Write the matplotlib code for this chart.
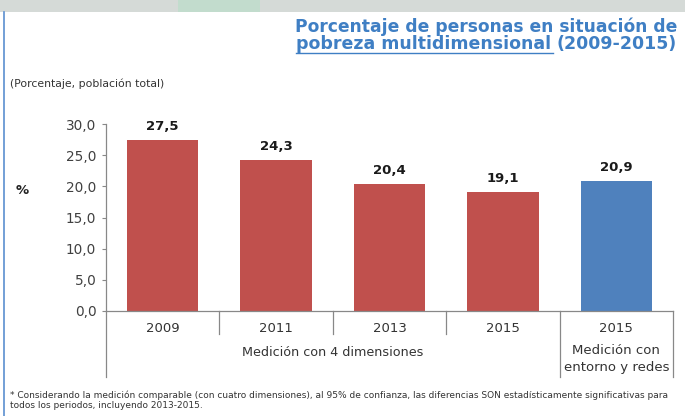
import matplotlib
matplotlib.use('Agg')
import matplotlib.pyplot as plt
import matplotlib.transforms as mtransforms
from matplotlib.patches import Rectangle
from matplotlib.lines import Line2D

plt.rcParams['font.family'] = ['DejaVu Sans']

# datos
years = ['2009', '2011', '2013', '2015', '2015']
values = [27.5, 24.3, 20.4, 19.1, 20.9]
bar_colors = ['#c0504d', '#c0504d', '#c0504d', '#c0504d', '#4f81bd']
yticks = [0, 5, 10, 15, 20, 25, 30]
group1 = 'Medición con 4 dimensiones'
group2 = 'Medición con\nentorno y redes'
title1 = 'Porcentaje de personas en situación de'
title2_a = 'pobreza multidimensional '
title2_b = '(2009-2015)'
subtitle = '(Porcentaje, población total)'
footnote = ('* Considerando la medición comparable (con cuatro dimensiones), al 95% de confianza, '
            'las diferencias SON estadísticamente significativas para\n'
            'todos los periodos, incluyendo 2013-2015.')

W, H = 685, 416
fig = plt.figure(figsize=(W / 100, H / 100), dpi=100)
fig.patch.set_facecolor('white')

# franja superior y linea azul de la izquierda
fig.patches.append(Rectangle((0, 1 - 12 / H), 1, 12 / H, transform=fig.transFigure,
                             facecolor='#d5dad7', edgecolor='none', zorder=0))
fig.patches.append(Rectangle((0.26, 1 - 12 / H), 0.12, 12 / H, transform=fig.transFigure,
                             facecolor='#c2dccd', edgecolor='none', zorder=0))
fig.lines.append(Line2D([4 / W, 4 / W], [0, 1 - 12 / H], transform=fig.transFigure,
                        color='#5b8fd0', lw=1.2))

ax = fig.add_axes([106 / W, (H - 311) / H, 567 / W, 187 / H])
x = list(range(len(values)))
ax.bar(x, values, width=0.63, color=bar_colors, zorder=2)
ax.set_xlim(-0.5, len(values) - 0.5)
ax.set_ylim(0, 30)

for xi, v in zip(x, values):
    ax.annotate(f'{v:.1f}'.replace('.', ','), (xi, v), xytext=(0, 5), textcoords='offset points',
                ha='center', va='bottom', fontsize=9.5, fontweight='bold', color='#1a1a1a')

ax.set_yticks(yticks)
ax.set_yticklabels([f'{t:.1f}'.replace('.', ',') for t in yticks], fontsize=9.8, color='#404040')
ax.set_xticks(x)
ax.set_xticklabels(years, fontsize=9.5, color='#333333')
ax.tick_params(axis='y', length=3, width=0.8, color='#888888', pad=4)
ax.tick_params(axis='x', length=0, pad=8)
for s in ['top', 'right']:
    ax.spines[s].set_visible(False)
for s in ['left', 'bottom']:
    ax.spines[s].set_color('#888888')
    ax.spines[s].set_linewidth(0.9)

# separadores de categorias
tr = mtransforms.blended_transform_factory(ax.transData, fig.transFigure)
y0 = (H - 311) / H
y_short = (H - 334) / H
y_long = (H - 377) / H
for b in [0.5, 1.5, 2.5]:
    ax.plot([b, b], [y0, y_short], transform=tr, color='#888888', lw=0.9, clip_on=False)
for b in [-0.5, 3.5, 4.5]:
    ax.plot([b, b], [y0, y_long], transform=tr, color='#888888', lw=0.9, clip_on=False)

ax.text(1.5, (H - 353) / H, group1, transform=tr, ha='center', va='center',
        fontsize=9.2, color='#333333')
ax.text(4, (H - 359) / H, group2, transform=tr, ha='center', va='center',
        fontsize=9.5, color='#333333', linespacing=1.45)

fig.text(22 / W, (H - 190) / H, '%', ha='center', va='center', fontsize=9.5,
         fontweight='bold', color='#222222')
fig.text(10 / W, (H - 84) / H, subtitle, ha='left', va='center', fontsize=7.8, color='#333333')
fig.text(10 / W, (H - 400) / H, footnote, ha='left', va='center', fontsize=6.5,
         color='#333333', linespacing=1.2)

# titulo
tcol = '#3f7fc4'
fig.text(677 / W, (H - 32) / H, title1, ha='right', va='baseline', fontsize=12.3,
         fontweight='bold', color=tcol)
tb = fig.text(677 / W, (H - 49) / H, title2_b, ha='right', va='baseline', fontsize=12.5,
              fontweight='bold', color=tcol)
fig.canvas.draw()
r = fig.canvas.get_renderer()
bx = tb.get_window_extent(r).x0
ta = fig.text(bx / W, (H - 49) / H, title2_a, ha='right', va='baseline', fontsize=12.5,
              fontweight='bold', color=tcol)
fig.canvas.draw()
ea = ta.get_window_extent(r)
fig.lines.append(Line2D([ea.x0 / W, (ea.x1 - 4) / W], [(H - 53) / H, (H - 53) / H],
                        transform=fig.transFigure, color=tcol, lw=1))

fig.savefig('out.png', dpi=100)
